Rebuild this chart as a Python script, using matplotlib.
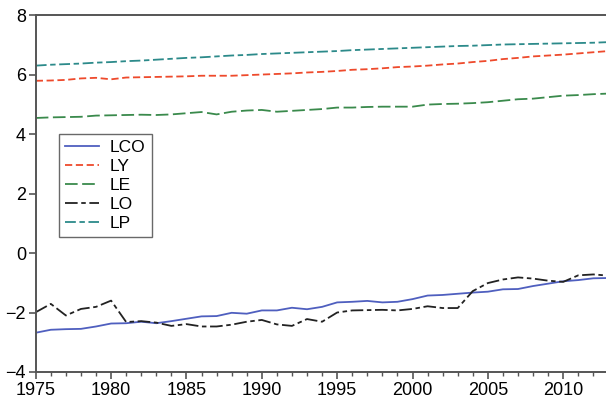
import numpy as np
import matplotlib
matplotlib.use("Agg")
import matplotlib.pyplot as plt
import matplotlib.ticker as ticker

plt.rcParams['font.family'] = ['Liberation Sans', 'DejaVu Sans']

years = list(range(1975, 2014))

lco = [-2.68, -2.58, -2.56, -2.55, -2.47, -2.37, -2.36, -2.31, -2.36, -2.29,
       -2.21, -2.13, -2.12, -2.01, -2.04, -1.93, -1.93, -1.84, -1.89, -1.81,
       -1.66, -1.64, -1.61, -1.66, -1.64, -1.55, -1.43, -1.41, -1.37, -1.33,
       -1.30, -1.22, -1.21, -1.11, -1.03, -0.95, -0.91, -0.85, -0.84]

ly = [5.79, 5.80, 5.82, 5.87, 5.89, 5.84, 5.90, 5.91, 5.92, 5.93,
      5.94, 5.96, 5.96, 5.96, 5.98, 6.00, 6.02, 6.04, 6.07, 6.09,
      6.12, 6.16, 6.18, 6.21, 6.25, 6.27, 6.30, 6.34, 6.37, 6.42,
      6.46, 6.52, 6.56, 6.61, 6.64, 6.67, 6.71, 6.75, 6.79]

le = [4.54, 4.56, 4.57, 4.58, 4.62, 4.63, 4.64, 4.65, 4.64, 4.66,
      4.70, 4.74, 4.66, 4.75, 4.79, 4.81, 4.75, 4.78, 4.81, 4.84,
      4.89, 4.89, 4.91, 4.92, 4.92, 4.92, 4.99, 5.01, 5.02, 5.04,
      5.07, 5.12, 5.17, 5.19, 5.24, 5.29, 5.31, 5.34, 5.36]

lo = [-1.99, -1.71, -2.10, -1.88, -1.81, -1.60, -2.32, -2.29, -2.34, -2.45,
      -2.39, -2.47, -2.47, -2.41, -2.31, -2.25, -2.40, -2.45, -2.22, -2.31,
      -2.00, -1.93, -1.92, -1.91, -1.93, -1.88, -1.79, -1.85, -1.85, -1.28,
      -1.01, -0.89, -0.82, -0.86, -0.93, -0.97, -0.75, -0.72, -0.76]

lp = [6.30, 6.33, 6.35, 6.37, 6.40, 6.42, 6.45, 6.47, 6.50, 6.53,
      6.56, 6.58, 6.61, 6.64, 6.66, 6.69, 6.71, 6.73, 6.75, 6.77,
      6.79, 6.82, 6.84, 6.86, 6.88, 6.90, 6.92, 6.94, 6.96, 6.97,
      6.99, 7.01, 7.02, 7.03, 7.04, 7.05, 7.06, 7.07, 7.09]

fig = plt.figure(figsize=(6.06, 4.07), dpi=100)
ax = fig.add_axes([0.059, 0.086, 0.945, 0.877])

ax.plot(years, lco, color='#4f5fbf', lw=1.3, ls='-', label='LCO')
ax.plot(years, ly, color='#ee4a2c', lw=1.3, ls=(0, (4, 2)), label='LY')
ax.plot(years, le, color='#3a8a4c', lw=1.3, ls=(0, (7, 2.5)), label='LE')
ax.plot(years, lo, color='#222222', lw=1.3, ls=(0, (7, 2, 2.5, 2)), label='LO')
ax.plot(years, lp, color='#2c8a8a', lw=1.3, ls=(0, (6, 2, 3, 2)), label='LP')

ax.set_xlim(1975, 2013)
ax.set_ylim(-4, 8)
ax.xaxis.set_major_locator(ticker.MultipleLocator(5))
ax.xaxis.set_minor_locator(ticker.MultipleLocator(1))
ax.yaxis.set_major_locator(ticker.MultipleLocator(2))

for side in ['left', 'bottom', 'top']:
    ax.spines[side].set_color('#555555')
    ax.spines[side].set_linewidth(1.4)
ax.spines['right'].set_visible(False)

ax.tick_params(axis='both', which='major', direction='out', length=5,
               width=1.2, color='#555555', labelsize=13, pad=2)
ax.tick_params(axis='x', which='minor', direction='out', length=3,
               width=1.0, color='#555555')
ax.tick_params(axis='y', which='minor', left=False)

leg = ax.legend(loc='upper left', bbox_to_anchor=(0.040, 0.667),
                borderaxespad=0, fontsize=12.5, frameon=True, fancybox=False,
                handlelength=2.0, handletextpad=0.6, labelspacing=0.22,
                borderpad=0.35)
leg.get_frame().set_edgecolor('#444444')
leg.get_frame().set_linewidth(1.0)

fig.savefig('out.png', dpi=100)
